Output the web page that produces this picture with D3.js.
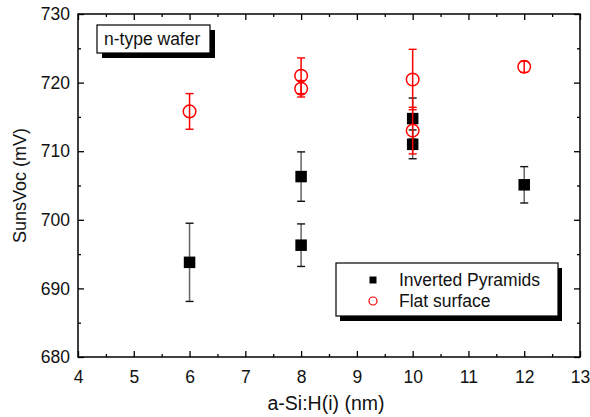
<!DOCTYPE html>
<html>
<head>
<meta charset="utf-8">
<script src="https://cdn.jsdelivr.net/npm/d3@7"></script>
<style>
  html, body { margin: 0; padding: 0; background: #fff; }
  svg { display: block; font-family: "Liberation Sans", Arial, sans-serif; }
</style>
</head>
<body>
<svg id="chart" width="590" height="417"></svg>
<script>
// Intrinsic a-Si:H(i) layer thickness (nm) and SunsVoc (mV) with error bars
const pyramidThickness = [6, 8, 8, 10, 10, 12];
const pyramidVoc       = [693.8, 706.3, 696.3, 714.75, 711.0, 705.1];
const pyramidErr       = [5.7, 3.6, 3.1, 3.0, 2.1, 2.65];

const flatThickness = [6, 8, 8, 10, 10, 12];
const flatVoc       = [715.8, 721.0, 719.1, 720.45, 713.0, 722.3];
const flatErr       = [2.6, 2.6, 1.2, 4.4, 3.4, 0.8];

const xTicks = [4, 5, 6, 7, 8, 9, 10, 11, 12, 13];
const yTicks = [680, 690, 700, 710, 720, 730];
const seriesNames = ["Inverted Pyramids", "Flat surface"];
const annotation = "n-type wafer";

const svg = d3.select("#chart");
const plot = { left: 78, right: 580, top: 14, bottom: 357 };

const x = d3.scaleLinear().domain([4, 13]).range([plot.left, plot.right]);
const y = d3.scaleLinear().domain([680, 730]).range([plot.bottom, plot.top]);

const fontSize = 17.5;

// Minor ticks at half units / 5 mV
const xMinor = d3.range(4.5, 13, 1);
const yMinor = d3.range(685, 730, 10);

// Axes with inward ticks on all four sides
function addAxis(axisGen, transform, cls) {
  const g = svg.append("g").attr("class", cls).attr("transform", transform).call(axisGen);
  g.select(".domain").remove();
  g.selectAll("line").attr("stroke", "#000").attr("stroke-width", 1.3);
  return g;
}

// bottom
const gxb = addAxis(d3.axisBottom(x).tickValues(xTicks).tickSizeInner(-6).tickPadding(9).tickFormat(d3.format("d")),
  `translate(0,${plot.bottom})`, "x-axis");
gxb.selectAll("text").attr("font-size", fontSize).attr("fill", "#111").attr("dy", "0.95em");
addAxis(d3.axisBottom(x).tickValues(xMinor).tickSizeInner(-3).tickFormat(""), `translate(0,${plot.bottom})`, "x-minor");
// top
addAxis(d3.axisTop(x).tickValues(xTicks).tickSizeInner(-6).tickFormat(""), `translate(0,${plot.top})`, "x-top");
addAxis(d3.axisTop(x).tickValues(xMinor).tickSizeInner(-3).tickFormat(""), `translate(0,${plot.top})`, "x-top-minor");
// left
const gyl = addAxis(d3.axisLeft(y).tickValues(yTicks).tickSizeInner(-6).tickFormat(d3.format("d")),
  `translate(${plot.left},0)`, "y-axis");
gyl.selectAll("text").attr("font-size", fontSize).attr("fill", "#111").attr("x", -8);
addAxis(d3.axisLeft(y).tickValues(yMinor).tickSizeInner(-3).tickFormat(""), `translate(${plot.left},0)`, "y-minor");
// right
addAxis(d3.axisRight(y).tickValues(yTicks).tickSizeInner(-6).tickFormat(""), `translate(${plot.right},0)`, "y-right");
addAxis(d3.axisRight(y).tickValues(yMinor).tickSizeInner(-3).tickFormat(""), `translate(${plot.right},0)`, "y-right-minor");

// Frame
svg.append("rect")
  .attr("x", plot.left).attr("y", plot.top)
  .attr("width", plot.right - plot.left).attr("height", plot.bottom - plot.top)
  .attr("fill", "none").attr("stroke", "#000").attr("stroke-width", 1.5);

// Axis titles
svg.append("text")
  .attr("x", 326).attr("y", 410)
  .attr("text-anchor", "middle").attr("font-size", 19.5).attr("fill", "#111")
  .text("a-Si:H(i) (nm)");
svg.append("text")
  .attr("transform", `translate(26,${(plot.top + plot.bottom) / 2}) rotate(-90)`)
  .attr("text-anchor", "middle").attr("font-size", 18).attr("fill", "#111")
  .text("SunsVoc (mV)");

// Error bars for a series
function drawErrors(xs, vs, es, stemColor, capColor, cls) {
  const data = xs.map((d, i) => ({ x: d, v: vs[i], e: es[i] }));
  const g = svg.append("g").attr("class", cls);
  const capHalf = 4;
  g.selectAll("line.stem").data(data).join("line").attr("class", "stem")
    .attr("x1", d => x(d.x)).attr("x2", d => x(d.x))
    .attr("y1", d => y(d.v - d.e)).attr("y2", d => y(d.v + d.e))
    .attr("stroke", stemColor).attr("stroke-width", 1.5);
  ["lo", "hi"].forEach(side => {
    g.selectAll("line.cap-" + side).data(data).join("line").attr("class", "cap-" + side)
      .attr("x1", d => x(d.x) - capHalf).attr("x2", d => x(d.x) + capHalf)
      .attr("y1", d => y(side === "lo" ? d.v - d.e : d.v + d.e))
      .attr("y2", d => y(side === "lo" ? d.v - d.e : d.v + d.e))
      .attr("stroke", capColor).attr("stroke-width", 1.4);
  });
  return { g, data };
}

const pyr = drawErrors(pyramidThickness, pyramidVoc, pyramidErr, "#666", "#111", "pyramid-err");
pyr.g.selectAll("rect.pt").data(pyr.data).join("rect").attr("class", "pt")
  .attr("x", d => x(d.x) - 5.75).attr("y", d => y(d.v) - 5.75)
  .attr("width", 11.5).attr("height", 11.5).attr("fill", "#000");

const flat = drawErrors(flatThickness, flatVoc, flatErr, "#ff0000", "#ff0000", "flat-err");
flat.g.selectAll("circle.pt").data(flat.data).join("circle").attr("class", "pt")
  .attr("cx", d => x(d.x)).attr("cy", d => y(d.v)).attr("r", 6.3)
  .attr("fill", "none").attr("stroke", "#ff0000").attr("stroke-width", 1.5);

// Annotation box with drop shadow
const ann = svg.append("g").attr("class", "annotation");
ann.append("rect").attr("x", 102).attr("y", 30).attr("width", 113).attr("height", 28).attr("fill", "#000");
ann.append("rect").attr("x", 97).attr("y", 25).attr("width", 113).attr("height", 28)
  .attr("fill", "#fff").attr("stroke", "#000").attr("stroke-width", 1.2);
ann.append("text").attr("x", 104).attr("y", 45).attr("font-size", fontSize).attr("fill", "#111").text(annotation);

// Legend with drop shadow
const leg = svg.append("g").attr("class", "legend");
leg.append("rect").attr("x", 340).attr("y", 268).attr("width", 222).attr("height", 53).attr("fill", "#000");
leg.append("rect").attr("x", 336).attr("y", 263).attr("width", 222).attr("height", 53)
  .attr("fill", "#fff").attr("stroke", "#000").attr("stroke-width", 1.2);
leg.append("rect").attr("x", 373 - 3.5).attr("y", 280 - 3.5).attr("width", 7).attr("height", 7).attr("fill", "#000");
leg.append("circle").attr("cx", 373).attr("cy", 301).attr("r", 4)
  .attr("fill", "none").attr("stroke", "#ff0000").attr("stroke-width", 1.2);
leg.append("text").attr("x", 399).attr("y", 286).attr("font-size", fontSize).attr("fill", "#111").text(seriesNames[0]);
leg.append("text").attr("x", 399).attr("y", 307).attr("font-size", fontSize).attr("fill", "#111").text(seriesNames[1]);
</script>
</body>
</html>
